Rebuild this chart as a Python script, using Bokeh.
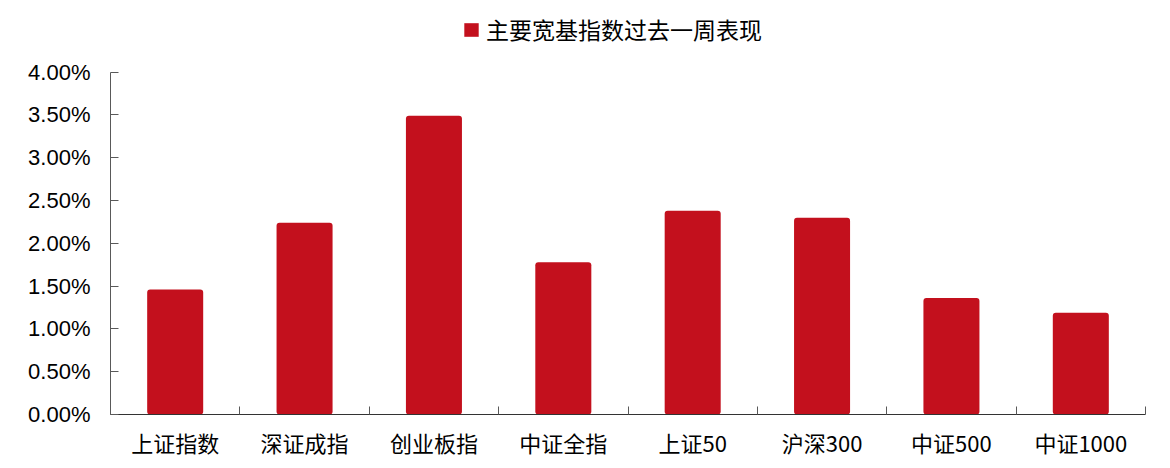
from bokeh.plotting import figure
from bokeh.models import (ColumnDataSource, Range1d, FixedTicker, PrintfTickFormatter,
                          Legend, LegendItem)
from bokeh.embed import file_html
from bokeh.resources import INLINE

categories = ["上证指数", "深证成指", "创业板指", "中证全指", "上证50", "沪深300", "中证500", "中证1000"]
values = [1.46, 2.24, 3.49, 1.78, 2.38, 2.30, 1.36, 1.19]
series_name = "主要宽基指数过去一周表现"
y_ticks = [0.0, 0.5, 1.0, 1.5, 2.0, 2.5, 3.0, 3.5, 4.0]
y_max = 4.0

BAR = "#C3101D"
AXIS = "#595959"

n = len(categories)
xs = [i + 0.5 for i in range(n)]
src = ColumnDataSource(dict(x=xs, top=values, cat=categories))

# frame extends above 4.00% so the legend can sit inside it; axis line bounded to [0, 4]
p = figure(width=1162, height=460, output_backend="svg", toolbar_location=None,
           x_range=Range1d(0, n), y_range=Range1d(0, 4.837),
           min_border_left=110, min_border_right=17, min_border_top=0, min_border_bottom=44)
p.outline_line_color = None
p.xgrid.visible = False
p.ygrid.visible = False

r = p.vbar(x="x", top="top", bottom=0, width=0.433, source=src, fill_color=BAR,
           line_color=None, border_radius=3)

# y axis
p.yaxis.bounds = (0, y_max)
p.yaxis.ticker = FixedTicker(ticks=y_ticks, minor_ticks=[])
p.yaxis.formatter = PrintfTickFormatter(format="%.2f%%")
p.yaxis.major_tick_in = 8
p.yaxis.major_tick_out = 0
p.yaxis.minor_tick_in = 0
p.yaxis.minor_tick_out = 0
p.yaxis.axis_line_color = AXIS
p.yaxis.major_tick_line_color = AXIS
p.yaxis.major_label_text_font = "Liberation Sans"
p.yaxis.major_label_text_font_size = "22px"
p.yaxis.major_label_text_color = "#000000"
p.yaxis.major_label_standoff = 20

# x axis: labels at centers, tick marks at category boundaries
p.xaxis.ticker = FixedTicker(ticks=xs, minor_ticks=list(range(n + 1)))
p.xaxis.major_label_overrides = {x: c for x, c in zip(xs, categories)}
p.xaxis.major_tick_in = 0
p.xaxis.major_tick_out = 0
p.xaxis.minor_tick_in = 8
p.xaxis.minor_tick_out = 0
p.xaxis.axis_line_color = "#333333"
p.xaxis.minor_tick_line_color = AXIS
p.xaxis.major_label_text_font = "Noto Sans CJK SC"
p.xaxis.major_label_text_font_size = "22px"
p.xaxis.major_label_text_color = "#000000"
p.xaxis.major_label_standoff = 11

legend = Legend(items=[LegendItem(label=series_name, renderers=[r])],
                orientation="horizontal", location=(352, 368),
                label_text_font="Noto Sans CJK SC", label_text_font_size="23px",
                label_text_color="#000000",
                glyph_width=18, glyph_height=17, label_standoff=6,
                padding=0, margin=0, border_line_color=None,
                background_fill_alpha=0)
p.add_layout(legend, "center")

open("out.html", "w").write(file_html(p, INLINE))
